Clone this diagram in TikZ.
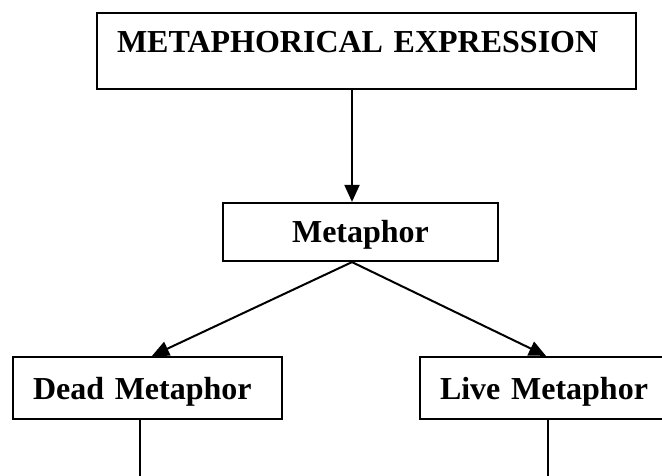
\documentclass[tikz,border=0pt]{standalone}
\usepackage{fontspec}
\setmainfont{Liberation Serif}
\usetikzlibrary{arrows.meta}
\begin{document}
\begin{tikzpicture}[x=1pt, y=-1pt,
    box/.style={draw, line width=2.2pt, rectangle, inner xsep=20pt, inner ysep=0pt,
      font=\fontsize{32}{36}\selectfont\bfseries, text height=22pt, text depth=0pt},
    arr/.style={line width=2pt, -{Triangle[length=17pt,width=15pt]}},
    stem/.style={line width=2pt}]
\clip (0, 0) rectangle (662, 476);

\node[box, text width=499pt, align=left, text height=40pt, text depth=36pt] (expr) at (366.5, 51) {METAPHORICAL EXPRESSION};
\node[box, minimum width=275pt, minimum height=58pt] (metaphor) at (360.5, 232) {Metaphor};
\node[box, text width=229pt, align=left, minimum height=62pt] (dead) at (147.5, 388) {Dead Metaphor};
\node[box, text width=230pt, align=left, minimum height=62pt] (live) at (555, 388) {Live Metaphor};

\coordinate (deadend) at (140, 476);
\coordinate (liveend) at (548, 476);

\draw[arr] ([xshift=-14.5pt]expr.south) -- ([xshift=-8.5pt]metaphor.north);
\draw[arr] ([xshift=-8.5pt]metaphor.south) -- ([xshift=4.5pt]dead.north);
\draw[arr] ([xshift=-8.5pt]metaphor.south) -- ([xshift=-9pt]live.north);
\draw[stem] (dead.south -| deadend) -- (deadend);
\draw[stem] (live.south -| liveend) -- (liveend);
\end{tikzpicture}
\end{document}
